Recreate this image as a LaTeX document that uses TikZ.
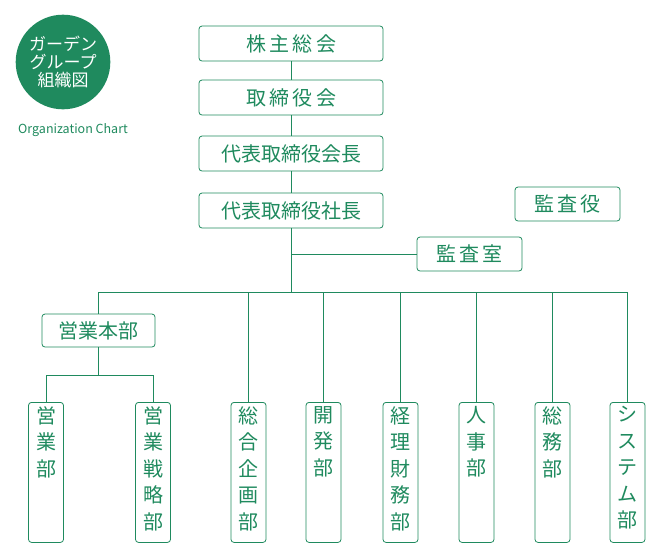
\documentclass[tikz,border=0pt]{standalone}
\usepackage{fontspec}
\setmainfont{Noto Sans CJK JP}
\usetikzlibrary{positioning}
\definecolor{grn}{HTML}{1F8A5E}
\newcommand{\vtext}[1]{\parbox[t][132pt][t]{24pt}{\centering #1}}
\begin{document}
\begin{tikzpicture}[x=1pt,y=-1pt,
  hbox/.style={draw=grn,thick,rounded corners=3pt,text=grn,minimum height=35pt,font=\fontsize{20}{20}\selectfont},
  vbox/.style={draw=grn,thick,rounded corners=3pt,text=grn,minimum width=35pt,inner xsep=0pt,inner ysep=4pt,anchor=north,
    font=\fontsize{20}{26.5}\selectfont},
  line/.style={draw=grn,thick}]
  \useasboundingbox (0,0) rectangle (650,550);
  % logo
  \node[circle,fill=grn,minimum size=92pt,text=white,align=center,font=\fontsize{17}{18}\selectfont] (logo) at (63,62) {ガーデン\\グループ\\組織図};
  \node[text=grn,font=\fontsize{12.5}{14}\selectfont] (en) at (73,130) {Organization Chart};
  % main column
  \node[hbox,minimum width=184pt] (sh) at (291,43.5) {株\,主\,総\,会};
  \node[hbox,minimum width=184pt] (bd) at (291,97.5) {取\,締\,役\,会};
  \node[hbox,minimum width=184pt] (ch) at (291,153.5) {代表取締役会長};
  \node[hbox,minimum width=184pt] (pr) at (291,210.5) {代表取締役社長};
  \node[hbox,minimum width=105pt,minimum height=34pt] (au) at (567.5,204) {監\,査\,役};
  \node[hbox,minimum width=105pt,minimum height=34pt] (ar) at (469.5,254) {監\,査\,室};
  \coordinate (bus) at (291,292);
  \draw[line] (sh) -- (bd) -- (ch) -- (pr) -- (bus);
  \draw[line] (291,254) -- (ar.west);
  % departments
  \node[hbox,minimum width=113pt,minimum height=33pt] (sales) at (98.5,330.5) {営業本部};
  \foreach \n/\x/\t in {d1/46/営\\業\\部, d2/153/営\\業\\戦\\略\\部, d3/248.5/総\\合\\企\\画\\部,
      d4/323.5/開\\発\\部, d5/400.5/経\\理\\財\\務\\部, d6/476.5/人\\事\\部,
      d7/552.5/総\\務\\部, d8/627.5/シ\\ス\\テ\\ム\\部}
    \node[vbox] (\n) at (\x,402) {\vtext{\t}};
  \draw[line] (98.5,292) -- (627.5,292);
  \draw[line] (98.5,292) -- (sales.north);
  \foreach \n in {d3,d4,d5,d6,d7,d8}
    \draw[line] (\n.north |- bus) -- (\n.north);
  \draw[line] (sales.south) -- (98.5,375);
  \draw[line] (d1.north) -- (46,375) -- (153,375) -- (d2.north);
\end{tikzpicture}
\end{document}
